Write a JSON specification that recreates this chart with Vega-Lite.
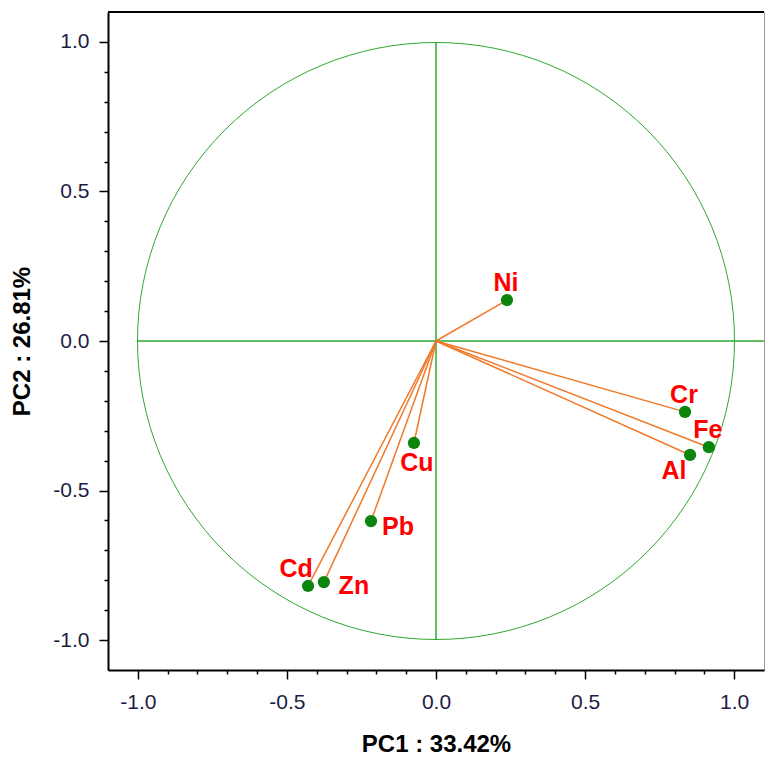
{
  "$schema": "https://vega.github.io/schema/vega-lite/v6.json",
  "width": 656,
  "height": 658,
  "autosize": {"type": "none"},
  "padding": {"left": 108, "top": 12, "right": 1, "bottom": 89},
  "background": "white",
  "config": {
    "view": {"stroke": "#9a9a9a", "strokeWidth": 1},
    "axis": {
      "grid": false,
      "domainColor": "#000000",
      "domainWidth": 2,
      "tickColor": "#000000",
      "tickWidth": 1.5,
      "labelFont": "Liberation Sans",
      "labelFontSize": 21,
      "labelColor": "#1c1c44",
      "labelOverlap": false,
      "labelFlush": false,
      "titleFont": "Liberation Sans",
      "titleFontSize": 24,
      "titleFontWeight": "bold",
      "titleColor": "#000000"
    }
  },
  "resolve": {"axis": {"x": "independent", "y": "independent"}},
  "datasets": {
    "loadings": [
      {"name": "Ni", "pc1": 0.238, "pc2": 0.137},
      {"name": "Cr", "pc1": 0.835, "pc2": -0.237},
      {"name": "Fe", "pc1": 0.915, "pc2": -0.355},
      {"name": "Al", "pc1": 0.852, "pc2": -0.381},
      {"name": "Cu", "pc1": -0.074, "pc2": -0.341},
      {"name": "Pb", "pc1": -0.218, "pc2": -0.602},
      {"name": "Cd", "pc1": -0.429, "pc2": -0.819},
      {"name": "Zn", "pc1": -0.376, "pc2": -0.806}
    ],
    "origin": [{"pc1": 0, "pc2": 0}]
  },
  "layer": [
    {
      "data": {"name": "origin"},
      "mark": {"type": "point", "shape": "circle", "size": 356409, "filled": false, "stroke": "#2fa82f", "strokeWidth": 1, "opacity": 1},
      "encoding": {
        "x": {"field": "pc1", "type": "quantitative", "scale": {"domain": [-1.1, 1.1], "nice": false, "zero": false},
          "axis": {"orient": "bottom", "title": "PC1 : 33.42%", "values": [-1, -0.5, 0, 0.5, 1], "format": ".1f",
            "labelExpr": "replace(datum.label, '\u2212', '-')",
            "tickSize": 9, "labelOverlap": false, "labelPadding": 12, "titlePadding": 20}},
        "y": {"field": "pc2", "type": "quantitative", "scale": {"domain": [-1.1, 1.1], "nice": false, "zero": false},
          "axis": {"orient": "left", "title": "PC2 : 26.81%", "values": [-1, -0.5, 0, 0.5, 1], "format": ".1f",
            "labelExpr": "replace(datum.label, '\u2212', '-')",
            "tickSize": 9, "labelOverlap": false, "labelPadding": 10, "titlePadding": 18}}
      }
    },
    {
      "data": {"name": "origin"},
      "mark": {"type": "rule", "color": "#2fa82f", "strokeWidth": 1.5},
      "encoding": {
        "x": {"datum": -1, "type": "quantitative", "axis": {"orient": "bottom", "title": null, "values": [-0.9, -0.8, -0.7, -0.6, -0.4, -0.3, -0.2, -0.1, 0.1, 0.2, 0.3, 0.4, 0.6, 0.7, 0.8, 0.9], "labels": false, "domain": false, "tickSize": 4}},
        "x2": {"datum": 1.1},
        "y": {"datum": 0, "type": "quantitative", "axis": {"orient": "left", "title": null, "values": [-0.9, -0.8, -0.7, -0.6, -0.4, -0.3, -0.2, -0.1, 0.1, 0.2, 0.3, 0.4, 0.6, 0.7, 0.8, 0.9], "labels": false, "domain": false, "tickSize": 4}}
      }
    },
    {
      "data": {"name": "origin"},
      "mark": {"type": "rule", "color": "#2fa82f", "strokeWidth": 1.5},
      "encoding": {"x": {"datum": 0, "type": "quantitative", "axis": null}, "y": {"datum": -1, "type": "quantitative", "axis": null}, "y2": {"datum": 1}}
    },
    {
      "data": {"name": "origin"},
      "mark": {"type": "rule", "color": "#000000", "strokeWidth": 2},
      "encoding": {"x": {"datum": -1.1, "type": "quantitative", "axis": null}, "x2": {"datum": 1.1}, "y": {"datum": 1.1, "type": "quantitative", "axis": null}}
    },
    {
      "data": {"name": "loadings"},
      "mark": {"type": "rule", "color": "#f07828", "strokeWidth": 1.5},
      "encoding": {
        "x": {"field": "pc1", "type": "quantitative", "axis": null},
        "y": {"field": "pc2", "type": "quantitative", "axis": null},
        "x2": {"datum": 0},
        "y2": {"datum": 0}
      }
    },
    {
      "data": {"name": "loadings"},
      "mark": {"type": "point", "shape": "circle", "filled": true, "size": 150, "color": "#0b850b", "opacity": 1},
      "encoding": {
        "x": {"field": "pc1", "type": "quantitative", "axis": null},
        "y": {"field": "pc2", "type": "quantitative", "axis": null}
      }
    },
    {
      "data": {"name": "loadings"},
      "transform": [{"filter": "datum.name === 'Ni' || datum.name === 'Cr' || datum.name === 'Fe'"}],
      "mark": {"type": "text", "font": "Liberation Sans", "fontWeight": "bold", "fontSize": 25, "color": "#ff0000", "align": "center", "baseline": "middle", "dx": -1, "dy": -17},
      "encoding": {"x": {"field": "pc1", "type": "quantitative", "axis": null}, "y": {"field": "pc2", "type": "quantitative", "axis": null}, "text": {"field": "name"}}
    },
    {
      "data": {"name": "loadings"},
      "transform": [{"filter": "datum.name === 'Al'"}],
      "mark": {"type": "text", "font": "Liberation Sans", "fontWeight": "bold", "fontSize": 25, "color": "#ff0000", "align": "center", "baseline": "middle", "dx": -16, "dy": 16},
      "encoding": {"x": {"field": "pc1", "type": "quantitative", "axis": null}, "y": {"field": "pc2", "type": "quantitative", "axis": null}, "text": {"field": "name"}}
    },
    {
      "data": {"name": "loadings"},
      "transform": [{"filter": "datum.name === 'Cu'"}],
      "mark": {"type": "text", "font": "Liberation Sans", "fontWeight": "bold", "fontSize": 25, "color": "#ff0000", "align": "center", "baseline": "middle", "dx": 3, "dy": 20},
      "encoding": {"x": {"field": "pc1", "type": "quantitative", "axis": null}, "y": {"field": "pc2", "type": "quantitative", "axis": null}, "text": {"field": "name"}}
    },
    {
      "data": {"name": "loadings"},
      "transform": [{"filter": "datum.name === 'Pb'"}],
      "mark": {"type": "text", "font": "Liberation Sans", "fontWeight": "bold", "fontSize": 25, "color": "#ff0000", "align": "center", "baseline": "middle", "dx": 27, "dy": 6},
      "encoding": {"x": {"field": "pc1", "type": "quantitative", "axis": null}, "y": {"field": "pc2", "type": "quantitative", "axis": null}, "text": {"field": "name"}}
    },
    {
      "data": {"name": "loadings"},
      "transform": [{"filter": "datum.name === 'Cd'"}],
      "mark": {"type": "text", "font": "Liberation Sans", "fontWeight": "bold", "fontSize": 25, "color": "#ff0000", "align": "center", "baseline": "middle", "dx": -12, "dy": -17},
      "encoding": {"x": {"field": "pc1", "type": "quantitative", "axis": null}, "y": {"field": "pc2", "type": "quantitative", "axis": null}, "text": {"field": "name"}}
    },
    {
      "data": {"name": "loadings"},
      "transform": [{"filter": "datum.name === 'Zn'"}],
      "mark": {"type": "text", "font": "Liberation Sans", "fontWeight": "bold", "fontSize": 25, "color": "#ff0000", "align": "center", "baseline": "middle", "dx": 30, "dy": 4},
      "encoding": {"x": {"field": "pc1", "type": "quantitative", "axis": null}, "y": {"field": "pc2", "type": "quantitative", "axis": null}, "text": {"field": "name"}}
    }
  ]
}
